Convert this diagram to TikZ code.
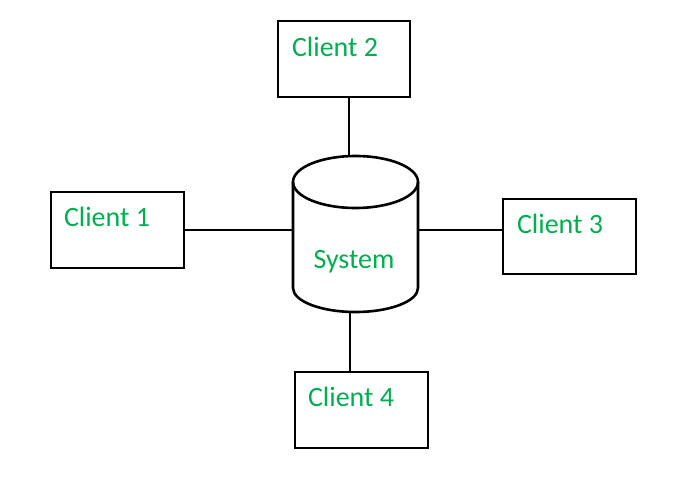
\documentclass[tikz,border=0pt]{standalone}
\usepackage{fontspec}
\setmainfont{Carlito}
\definecolor{txtgreen}{RGB}{0,176,80}
\begin{document}
\begin{tikzpicture}[x=1pt,y=1pt,
  box/.style={draw=black,line width=2.6pt,minimum width=#1,minimum height=76pt,inner sep=0pt,outer sep=0pt},
  lbl/.style={text=txtgreen,font=\fontsize{28}{30}\selectfont,inner sep=0pt,outer sep=0pt,anchor=base west},
  conn/.style={draw=black,line width=2.6pt},
  cyl/.style={draw=black,line width=2.6pt,line join=round}]
\useasboundingbox[fill=white] (0,0) rectangle (680,480);
% boxes
\node[box=133pt] (c1) at (117.5,250) {};
\node[box=132pt] (c2) at (344,421) {};
\node[box=133pt,minimum height=75pt] (c3) at (569.5,243.5) {};
\node[box=133pt] (c4) at (361.5,70) {};
% system (cylinder)
\node[inner sep=0pt,outer sep=0pt,minimum width=125pt,minimum height=157pt] (sys) at (355.5,246.5) {};
\draw[cyl] (355.5,298) ellipse [x radius=62.5, y radius=26];
\draw[cyl] (293,298) -- (293,192) arc[start angle=180, end angle=360, x radius=62.5, y radius=24] -- (418,298);
% labels
\node[lbl] (t1) at (64,253) {Client 1};
\node[lbl] (t2) at (292,423) {Client 2};
\node[lbl] (t3) at (517,247) {Client 3};
\node[lbl] (t4) at (308,74) {Client 4};
\node[text=txtgreen,font=\fontsize{28}{30}\selectfont,inner sep=0pt,anchor=base] (ts) at (354,212) {System};
% connectors
\draw[conn] ([xshift=5pt]c2.south) -- ([xshift=5pt]c2.south |- sys.north);
\draw[conn] (c1.east) -- (c1.east -| sys.west);
\draw[conn] (c1.east -| sys.east) -- (c1.east -| c3.west);
\draw[conn] ([xshift=-11.5pt]c4.north) -- ([xshift=-11.5pt]c4.north |- sys.south);
\end{tikzpicture}
\end{document}
